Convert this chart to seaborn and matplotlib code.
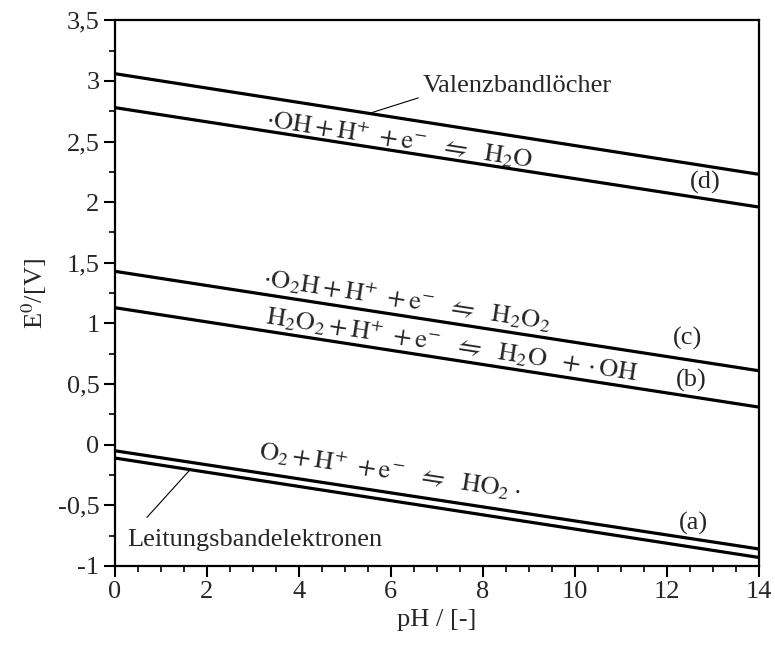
import numpy as np
import pandas as pd
import matplotlib
matplotlib.use("Agg")
import matplotlib.pyplot as plt
import seaborn as sns

# Daten (Endpunkte bei pH 0 und pH 14)
ph = [0, 14]
valenzband = [3.06, 2.23]
linie_d = [2.78, 1.96]
linie_c = [1.43, 0.61]
linie_b = [1.13, 0.31]
linie_a = [-0.05, -0.86]
leitungsband = [-0.11, -0.93]

y_ticks = [-1, -0.5, 0, 0.5, 1, 1.5, 2, 2.5, 3, 3.5]
y_tick_labels = ["-1", "-0,5", "0", "0,5", "1", "1,5", "2", "2,5", "3", "3,5"]
x_ticks = [0, 2, 4, 6, 8, 10, 12, 14]

sns.set_theme(style="ticks")
plt.rcParams['font.family'] = ['Liberation Serif', 'DejaVu Serif']
plt.rcParams['mathtext.fontset'] = 'stix'

df = pd.DataFrame({
    "pH": ph * 6,
    "E": valenzband + linie_d + linie_c + linie_b + linie_a + leitungsband,
    "linie": sum([[n] * 2 for n in ["vb", "d", "c", "b", "a", "lb"]], []),
})

fig = plt.figure(figsize=(7.75, 6.55), dpi=100)
ax = fig.add_axes([0.148, 0.136, 0.831, 0.833])
sns.lineplot(data=df, x="pH", y="E", hue="linie", palette=["black"] * 6,
             linewidth=2.3, legend=False, ax=ax)

ax.set_xlim(0, 14)
ax.set_ylim(-1, 3.5)
ax.set_xticks(x_ticks)
ax.set_xticks(np.arange(0, 14.01, 0.5), minor=True)
ax.set_yticks(y_ticks)
ax.set_yticklabels(y_tick_labels)
ax.set_yticks(np.arange(-1, 3.51, 0.25), minor=True)
ax.tick_params(which="major", length=8, width=1.5, labelsize=19, color="black", pad=3)
ax.tick_params(which="minor", length=4, width=1.2, color="black")
for s in ax.spines.values():
    s.set_linewidth(1.6)
    s.set_color("black")
ax.set_xlabel("pH / [-]", fontsize=19, labelpad=4)
ax.set_ylabel(r"E$^0$/[V]", fontsize=19, labelpad=6)

# Steigungswinkel auf dem Bildschirm
p0 = ax.transData.transform((0, linie_d[0]))
p1 = ax.transData.transform((14, linie_d[1]))
winkel = np.degrees(np.arctan2(p1[1] - p0[1], p1[0] - p0[0]))

fs = 19
gl = r"\ \ \leftrightharpoons\ \ "
ax.text(3.30, 2.69, r"$\cdot\mathrm{OH} + \mathrm{H}^{+}\ + \mathrm{e}^{-}" + gl + r"\mathrm{H_2O}$",
        rotation=winkel, rotation_mode="anchor", ha="left", va="center", fontsize=fs)
ax.text(3.22, 1.38, r"$\cdot\mathrm{O_2H} + \mathrm{H}^{+}\ + \mathrm{e}^{-}" + gl + r"\mathrm{H_2O_2}$",
        rotation=winkel, rotation_mode="anchor", ha="left", va="center", fontsize=fs)
ax.text(3.30, 1.07, r"$\mathrm{H_2O_2} + \mathrm{H}^{+}\ + \mathrm{e}^{-}" + gl + r"\mathrm{H_2O}\ \ + \cdot\mathrm{OH}$",
        rotation=winkel, rotation_mode="anchor", ha="left", va="center", fontsize=fs)
ax.text(3.15, -0.05, r"$\mathrm{O_2} + \mathrm{H}^{+}\ + \mathrm{e}^{-}" + gl + r"\mathrm{HO_2}\cdot$",
        rotation=winkel, rotation_mode="anchor", ha="left", va="center", fontsize=fs)

ax.text(12.83, 2.16, "(d)", ha="center", va="center", fontsize=fs)
ax.text(12.46, 0.88, "(c)", ha="center", va="center", fontsize=fs)
ax.text(12.54, 0.53, "(b)", ha="center", va="center", fontsize=fs)
ax.text(12.57, -0.65, "(a)", ha="center", va="center", fontsize=fs)

ax.text(6.70, 2.96, "Valenzbandlöcher", ha="left", va="center", fontsize=fs)
ax.plot([5.6, 6.6], [2.74, 2.86], color="black", linewidth=0.8)
ax.text(0.28, -0.79, "Leitungsbandelektronen", ha="left", va="center", fontsize=fs)
ax.plot([0.70, 1.63], [-0.60, -0.21], color="black", linewidth=0.8)

fig.savefig("out.png", dpi=100)
